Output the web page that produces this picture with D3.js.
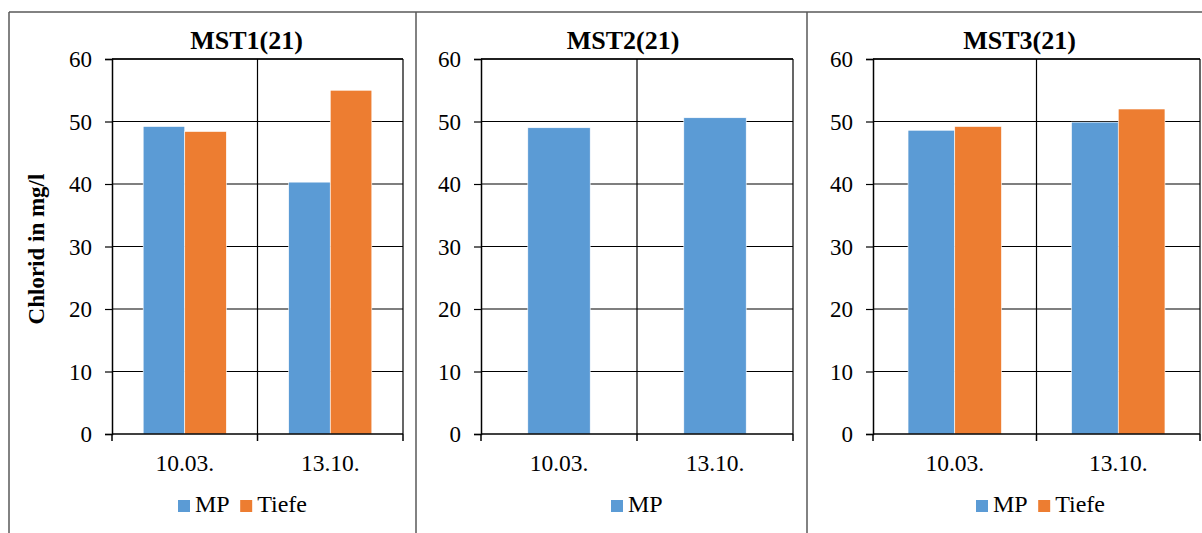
<!DOCTYPE html>
<html>
<head>
<meta charset="utf-8">
<script src="https://cdn.jsdelivr.net/npm/d3@7/dist/d3.min.js"></script>
<style>
  html, body { margin: 0; padding: 0; background: #fff; }
  svg { display: block; }
  text { font-family: "Liberation Serif", "Times New Roman", serif; fill: #000; }
</style>
</head>
<body>
<svg id="chart" width="1202" height="533"></svg>
<script>
// ---- data ----
const categories = ["10.03.", "13.10."];
const yTicks = [0, 10, 20, 30, 40, 50, 60];
const seriesNames = ["MP", "Tiefe"];
const titles = ["MST1(21)", "MST2(21)", "MST3(21)"];
const mst1MP = [49.2, 40.3];
const mst1Tiefe = [48.4, 55.0];
const mst2MP = [49.0, 50.6];
const mst3MP = [48.6, 49.9];
const mst3Tiefe = [49.2, 52.0];
const yLabel = "Chlorid in mg/l";

const colors = { "MP": "#5B9BD5", "Tiefe": "#ED7D31" };
const FONT = "'Liberation Serif', 'Times New Roman'";

// ---- layout ----
const panels = [
  { title: titles[0], series: [{ name: "MP", values: mst1MP }, { name: "Tiefe", values: mst1Tiefe }],
    left: 112, right: 403, titleX: 246.5, legendX: 178 },
  { title: titles[1], series: [{ name: "MP", values: mst2MP }],
    left: 481, right: 793, titleX: 623, legendX: 611 },
  { title: titles[2], series: [{ name: "MP", values: mst3MP }, { name: "Tiefe", values: mst3Tiefe }],
    left: 873, right: 1200, titleX: 1019.5, legendX: 976 }
];
const plotTop = 59, plotBottom = 434;
const borderColor = "#595959";

const svg = d3.select("#chart");

// outer panel borders
svg.append("line").attr("x1", 9).attr("x2", 1202).attr("y1", 12).attr("y2", 12)
  .attr("stroke", borderColor).attr("stroke-width", 1.5);
[9, 416, 807].forEach(x => {
  svg.append("line").attr("x1", x).attr("x2", x).attr("y1", 12).attr("y2", 533)
    .attr("stroke", borderColor).attr("stroke-width", 1.5);
});

const y = d3.scaleLinear().domain([0, 60]).range([plotBottom, plotTop]);

panels.forEach((p, pi) => {
  const g = svg.append("g");
  const x = d3.scaleBand().domain(categories).range([p.left, p.right]).paddingInner(0).paddingOuter(0);
  const n = p.series.length;
  const bw = x.bandwidth() / (n + 1.5);
  const xs = d3.scaleBand().domain(p.series.map(s => s.name))
    .range([(x.bandwidth() - n * bw) / 2, (x.bandwidth() + n * bw) / 2]).padding(0);

  // horizontal gridlines
  g.selectAll(".hg").data(yTicks.filter(t => t > 0)).enter().append("line")
    .attr("x1", p.left).attr("x2", p.right)
    .attr("y1", d => y(d)).attr("y2", d => y(d))
    .attr("stroke", "#000").attr("stroke-width", 1.2);
  // vertical gridlines at category boundaries
  const bounds = categories.map(c => x(c)).concat([p.right]);
  g.selectAll(".vg").data(bounds.slice(1)).enter().append("line")
    .attr("x1", d => d).attr("x2", d => d).attr("y1", plotTop).attr("y2", plotBottom)
    .attr("stroke", "#000").attr("stroke-width", 1.2);

  // bars
  p.series.forEach(s => {
    g.selectAll(".bar-" + s.name + pi).data(categories).enter().append("rect")
      .attr("x", (c) => x(c) + xs(s.name))
      .attr("width", xs.bandwidth())
      .attr("y", (c, i) => y(s.values[i]))
      .attr("height", (c, i) => plotBottom - y(s.values[i]))
      .attr("fill", colors[s.name])
      .attr("stroke", "#fff").attr("stroke-width", 0.6);
  });

  // y axis
  const yAxis = d3.axisLeft(y).tickValues(yTicks).tickSize(7).tickPadding(13).tickFormat(d3.format("d"));
  const ya = g.append("g").attr("transform", `translate(${p.left},0)`).call(yAxis);
  ya.attr("font-family", null);
  ya.select(".domain").attr("stroke", "#000").attr("stroke-width", 1.5);
  ya.selectAll(".tick line").attr("stroke", "#000").attr("stroke-width", 1.2);
  ya.selectAll(".tick text").attr("font-size", 23).attr("fill", "#000")
    .style("font-family", FONT).attr("dy", "0.33em");

  // x axis: ticks at category boundaries
  const xa = g.append("g");
  xa.append("line").attr("x1", p.left).attr("x2", p.right).attr("y1", plotBottom).attr("y2", plotBottom)
    .attr("stroke", "#000").attr("stroke-width", 1.5);
  xa.selectAll(".xt").data(bounds).enter().append("line")
    .attr("x1", d => d).attr("x2", d => d).attr("y1", plotBottom).attr("y2", plotBottom + 7)
    .attr("stroke", "#000").attr("stroke-width", 1.5);
  xa.selectAll(".xl").data(categories).enter().append("text")
    .attr("x", d => x(d) + x.bandwidth() / 2).attr("y", 471)
    .attr("text-anchor", "middle").attr("font-size", 23.5).style("font-family", FONT).text(d => d);

  // top border of plot
  g.append("line").attr("x1", p.left).attr("x2", p.right).attr("y1", plotTop).attr("y2", plotTop)
    .attr("stroke", "#000").attr("stroke-width", 1.5);

  // title
  g.append("text").attr("x", p.titleX).attr("y", 49).attr("text-anchor", "middle")
    .attr("font-size", 26).attr("font-weight", "bold").style("font-family", FONT).text(p.title);

  // legend
  let lx = p.legendX;
  p.series.forEach(s => {
    g.append("rect").attr("x", lx).attr("y", 500).attr("width", 12).attr("height", 12)
      .attr("fill", colors[s.name]);
    const t = g.append("text").attr("x", lx + 17).attr("y", 512).attr("font-size", 24)
      .style("font-family", FONT).text(s.name);
    lx += 17 + t.node().getComputedTextLength() + 10.5;
  });
});

// y axis label
svg.append("text").attr("transform", "translate(44,249) rotate(-90)")
  .attr("text-anchor", "middle").attr("font-size", 23).attr("font-weight", "bold")
  .style("font-family", FONT).text(yLabel);
</script>
</body>
</html>
